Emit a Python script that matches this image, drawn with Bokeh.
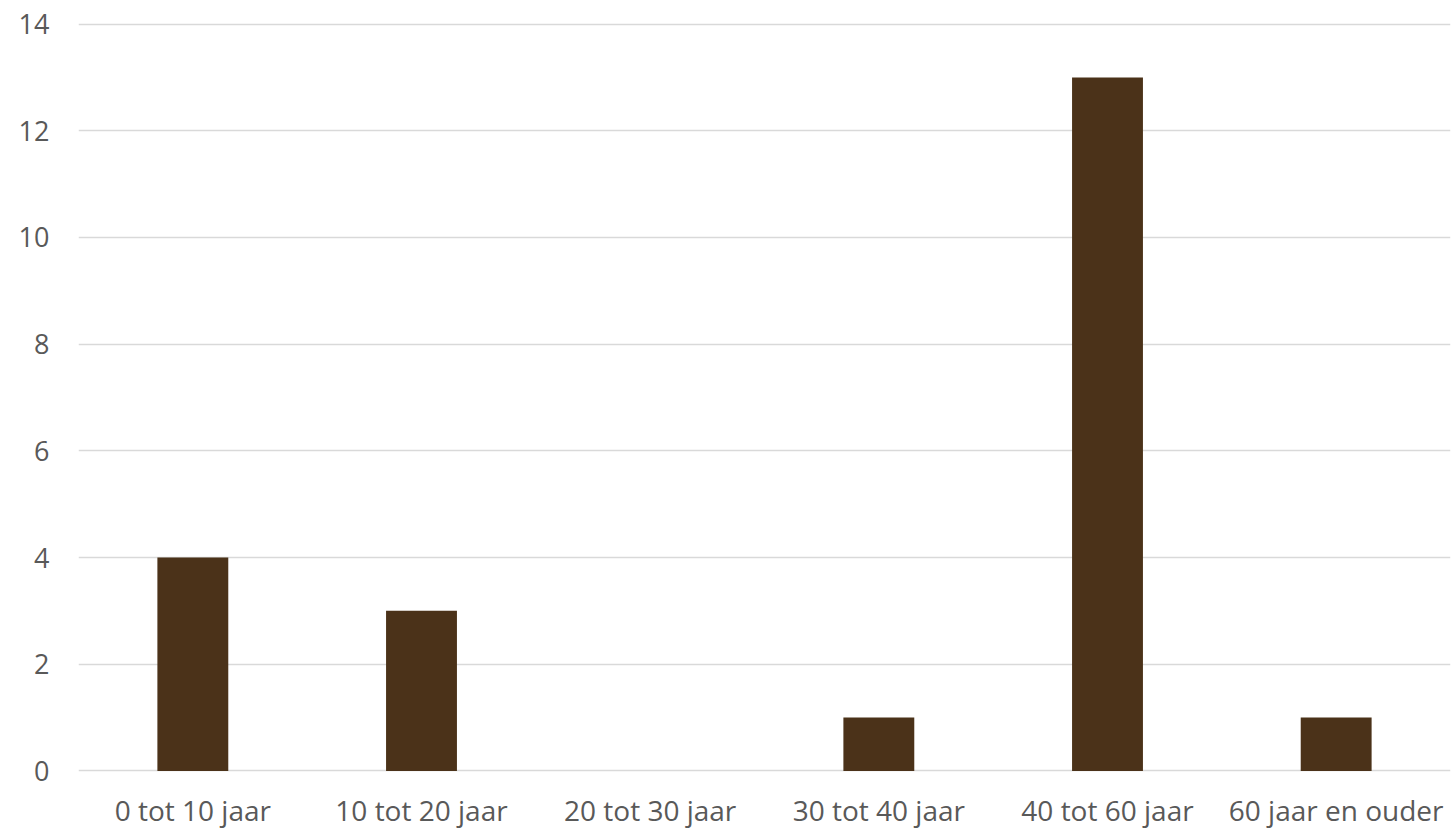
from bokeh.plotting import figure
from bokeh.models import ColumnDataSource, FixedTicker, Range1d
from bokeh.embed import file_html
from bokeh.resources import INLINE

# Age groups and counts
categories = ["0 tot 10 jaar", "10 tot 20 jaar", "20 tot 30 jaar",
              "30 tot 40 jaar", "40 tot 60 jaar", "60 jaar en ouder"]
counts = [4, 3, 0, 1, 13, 1]
y_ticks = [0, 2, 4, 6, 8, 10, 12, 14]

source = ColumnDataSource(data=dict(cat=categories, count=counts))

p = figure(
    x_range=categories,
    y_range=Range1d(-0.03, 14.03),
    width=1452, height=832,
    output_backend="svg", toolbar_location=None,
    min_border_left=78, min_border_right=2,
    min_border_top=22, min_border_bottom=60,
)

p.vbar(x="cat", top="count", width=0.31, source=source,
       fill_color="#4B3219", line_color=None)

p.outline_line_color = None
p.background_fill_color = "white"
p.border_fill_color = "white"

p.xgrid.grid_line_color = None
p.ygrid.grid_line_color = "#D9D9D9"
p.ygrid.grid_line_width = 1.5
p.yaxis.ticker = FixedTicker(ticks=y_ticks)

for ax in (p.xaxis, p.yaxis):
    ax.axis_line_color = None
    ax.major_tick_line_color = None
    ax.minor_tick_line_color = None
    ax.major_tick_out = 0
    ax.major_tick_in = 0
    ax.minor_tick_out = 0
    ax.major_label_text_color = "#595959"
    ax.major_label_text_font = "Open Sans"

p.xaxis.major_label_text_font_size = "28px"
p.xaxis.major_label_standoff = 18
p.yaxis.major_label_text_font_size = "27px"
p.yaxis.major_label_standoff = 29
p.x_range.range_padding = 0

open("out.html", "w").write(file_html(p, INLINE))
